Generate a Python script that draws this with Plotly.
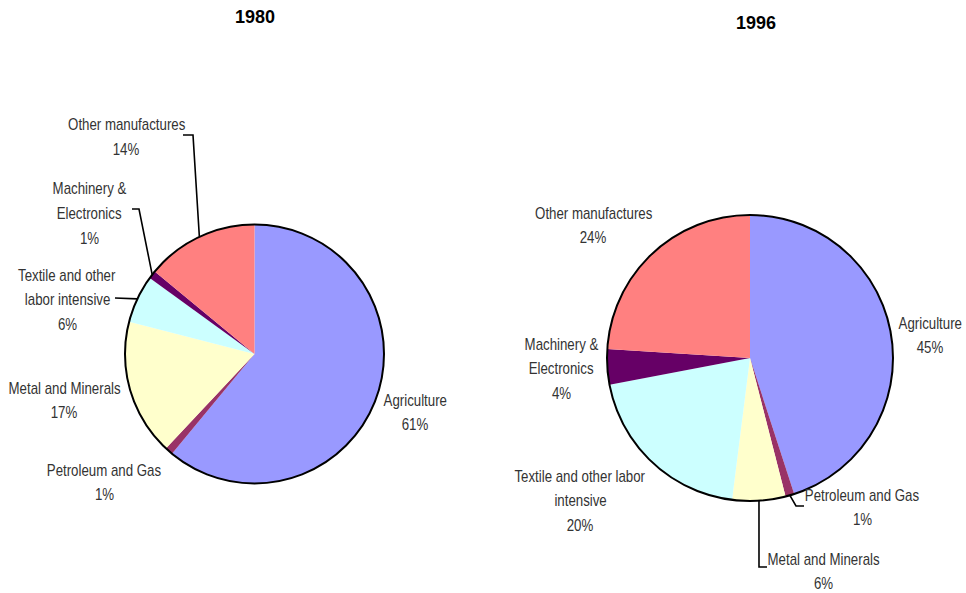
import math
import plotly.graph_objects as go

W, H = 966, 593

# Export composition by sector (percent of total)
sectors = ["Agriculture", "Petroleum and Gas", "Metal and Minerals",
           "Textile and other labor intensive", "Machinery & Electronics",
           "Other manufactures"]
share_1980 = [61, 1, 17, 6, 1, 14]
share_1996 = [45, 1, 6, 20, 4, 24]
years = ["1980", "1996"]

# Label wording as wrapped on each pie
wrap_1980 = [["Agriculture"], ["Petroleum and Gas"], ["Metal and Minerals"],
             ["Textile and other", "labor intensive"], ["Machinery &", "Electronics"],
             ["Other manufactures"]]
wrap_1996 = [["Agriculture"], ["Petroleum and Gas"], ["Metal and Minerals"],
             ["Textile and other labor", "intensive"], ["Machinery &", "Electronics"],
             ["Other manufactures"]]

colors = ["#9999FF", "#993366", "#FFFFCC", "#CCFFFF", "#660066", "#FF8080"]

LABEL_FONT = dict(family="Liberation Sans Narrow, Arial Narrow, Liberation Sans, Arial",
                  size=16, color="#333333")
TITLE_FONT = dict(family="Liberation Sans, Arial", size=18, color="#000000")
LINE_STEP = 24.5

# Layout of each pie: centre/radius in pixels, title position,
# label anchors (centre x, first-line y) and leader-line elbows per sector.
layouts = [
    dict(cx=254.5, cy=354, r=129.5, title=(255, 17),
         labels=[(415, 400), (104, 470), (64, 388), (67, 275), (89, 189), (126, 125)],
         leaders={3: [(115, 298)],
                  4: [(139, 209), (132, 209)],
                  5: [(193, 135), (183, 135)]}),
    dict(cx=750, cy=358, r=143, title=(756, 23),
         labels=[(930, 323), (862, 495), (823, 559), (580, 476), (561, 344), (593, 213)],
         leaders={1: [(796, 506), (804, 506)],
                  2: [(759, 567), (767, 567)]}),
]


def px(x):
    return x / W


def py(y):
    return 1 - y / H


fig = go.Figure()
shapes = []
annotations = []

for values, wraps, year, lay in zip([share_1980, share_1996],
                                    [wrap_1980, wrap_1996], years, layouts):
    cx, cy, r = lay["cx"], lay["cy"], lay["r"]
    fig.add_trace(go.Pie(
        labels=sectors, values=values, sort=False, direction="clockwise",
        rotation=0, textinfo="none", hoverinfo="label+percent",
        marker=dict(colors=colors, line=dict(width=0)),
        domain=dict(x=[px(cx - r), px(cx + r)], y=[py(cy + r), py(cy - r)]),
        showlegend=False,
    ))
    # outer rim of the pie
    shapes.append(dict(type="circle", xref="paper", yref="paper",
                       x0=px(cx - r), x1=px(cx + r), y0=py(cy + r), y1=py(cy - r),
                       line=dict(color="black", width=2), layer="above"))

    tx, ty = lay["title"]
    annotations.append(dict(text=f"<b>{year}</b>", x=px(tx), y=py(ty), xref="paper",
                            yref="paper", showarrow=False, xanchor="center",
                            yanchor="middle", font=TITLE_FONT))

    total = sum(values)
    cum = 0
    for i, v in enumerate(values):
        mid = (cum + v / 2) / total * 2 * math.pi
        cum += v
        # point on the rim at the middle of the slice
        sx = cx + r * math.sin(mid)
        sy = cy - r * math.cos(mid)
        lx, ly = lay["labels"][i]
        lines = wraps[i] + [f"{v}%"]
        for k, line in enumerate(lines):
            annotations.append(dict(text=line, x=px(lx), y=py(ly + k * LINE_STEP),
                                    xref="paper", yref="paper", showarrow=False,
                                    xanchor="center", yanchor="middle",
                                    font=LABEL_FONT))
        if i in lay["leaders"]:
            pts = [(sx, sy)] + lay["leaders"][i]
            path = "M " + " L ".join(f"{px(x)},{py(y)}" for x, y in pts)
            shapes.append(dict(type="path", xref="paper", yref="paper", path=path,
                               line=dict(color="black", width=1.6)))

fig.update_layout(
    width=W, height=H,
    margin=dict(l=0, r=0, t=0, b=0),
    paper_bgcolor="white", plot_bgcolor="white",
    shapes=shapes, annotations=annotations,
)

# Narrow the slice labels (no condensed face is available), leave bold titles as is
condense_js = """
(function () {
  var gd = document.getElementById('{plot_id}');
  function condense() {
    gd.querySelectorAll('text.annotation-text').forEach(function (t) {
      if (t.querySelector('tspan[style*="bold"]')) { return; }
      t.style.transformBox = 'fill-box';
      t.style.transformOrigin = 'center';
      t.style.transform = 'scaleX(0.83)';
    });
  }
  condense();
  if (gd.on) { gd.on('plotly_afterplot', condense); }
})();
"""

fig.write_html("out.html", post_script=condense_js)
